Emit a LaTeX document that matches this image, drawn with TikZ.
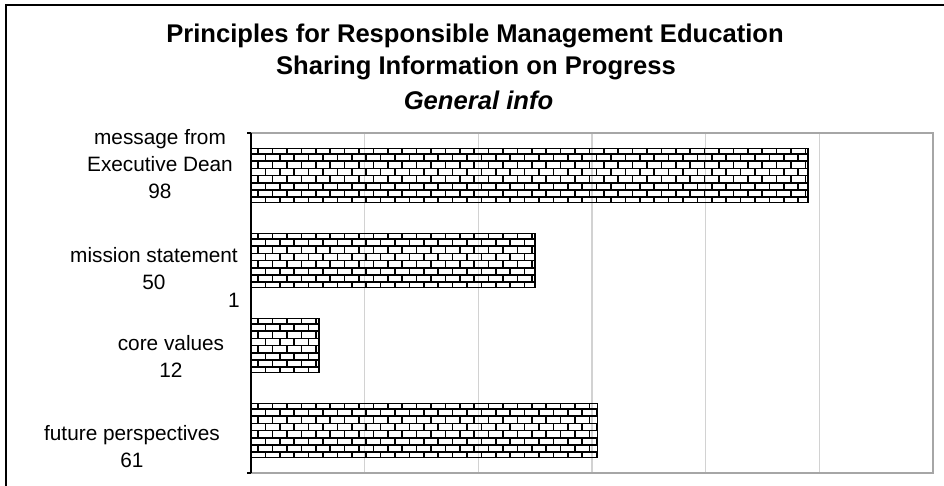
\documentclass[tikz,border=0pt]{standalone}
\usepackage{fontspec}
\setmainfont{Liberation Sans}
\tikzset{
  titletext/.style={anchor=base,inner sep=0pt,font=\fontsize{25.6}{30}\selectfont\bfseries},
  catlabel/.style={anchor=base,inner sep=0pt,align=center,font=\fontsize{20.8}{27}\selectfont},
  brick/.style={line width=1.5pt,black},
  baredge/.style={draw=black,line width=1.6pt}
}
\begin{document}
\begin{tikzpicture}[x=1pt,y=-1pt]
\useasboundingbox (0,0) rectangle (944,486);
% frame
\draw[line width=1.5pt] (6,486)--(6,5)--(944,5);
% title
\node[titletext] (ttlA) at (475,43) {Principles for Responsible Management Education};
\node[titletext] (ttlB) at (476,74.5) {Sharing Information on Progress};
\node[titletext,font=\fontsize{25.6}{30}\selectfont\bfseries\itshape] (ttlC) at (478.5,110) {General info};
% grid and plot area
\foreach \k in {1,...,5} \draw[gray!35,line width=1.3pt] (251+113.67*\k,133)--(251+113.67*\k,473);
\draw[gray!70,line width=1.5pt] (251,133)--(933,133)--(933,473)--(251,473);
\draw[line width=1.3pt] (251,133)--(251,473);
\draw[line width=1.3pt] (247,133)--(251,133);
\draw[line width=1.3pt] (247,473)--(251,473);
% bars, brick filled
\foreach \v/\t in {98/148.5,50/233.5,12/318.5,61/403.5}{
  \begin{scope}
    \clip (251,\t) rectangle (251+5.683*\v,\t+54);
    \foreach \j in {-1,...,7}{
      \pgfmathsetmacro\yy{\t+5.5+7.2*\j}
      \pgfmathsetmacro\off{mod(\j+2,2)*7.2}
      \draw[brick] (251,\yy)--(940,\yy);
      \foreach \i in {0,...,48} \draw[brick] (251+\off+14.4*\i,\yy)--(251+\off+14.4*\i,\yy+7.2);
    }
  \end{scope}
  \draw[baredge] (251,\t) rectangle (251+5.683*\v,\t+54);
}
% category labels (base = last line)
\node[catlabel] (catA) at (160,199) {message from\\Executive Dean\\98};
\node[catlabel] (catB) at (154,289) {mission statement\\50};
\node[catlabel] (one) at (234,307) {1};
\node[catlabel] (catC) at (171,377) {core values\\12};
\node[catlabel] (catD) at (132,467) {future perspectives\\61};
\end{tikzpicture}
\end{document}
